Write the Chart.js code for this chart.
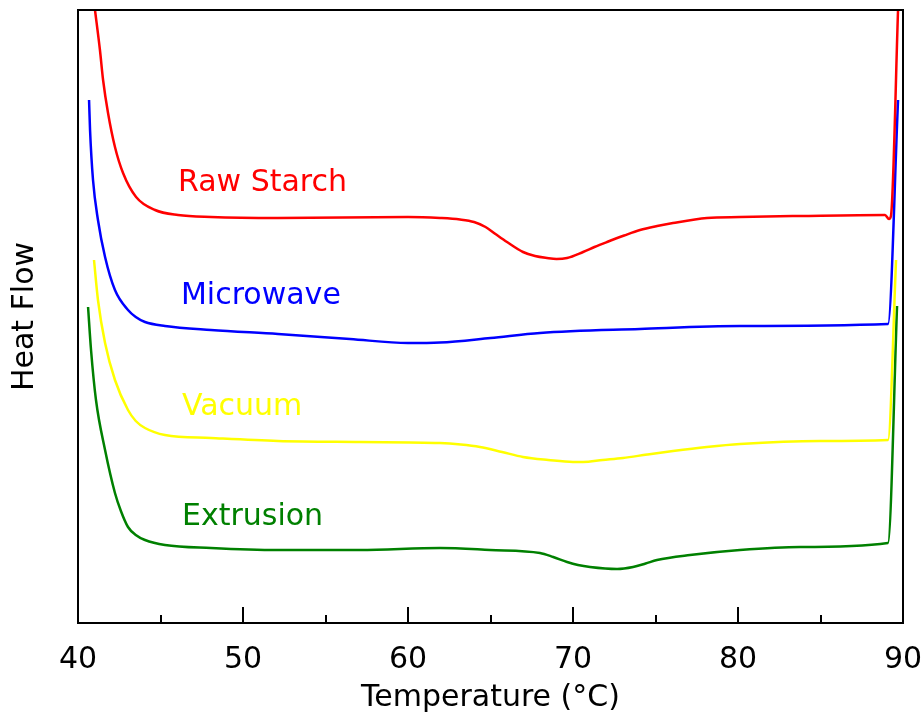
<!DOCTYPE html>
<html>
<head>
<meta charset="utf-8">
<script src="https://cdn.jsdelivr.net/npm/chart.js@4/dist/chart.umd.min.js"></script>
<style>
  html, body { margin: 0; padding: 0; background: #ffffff; }
  #wrap { width: 922px; height: 721px; }
</style>
</head>
<body>
<div id="wrap"><canvas id="c" width="922" height="721"></canvas></div>
<script>
// Temperature (°C) and heat flow (a.u.)
const rawT  = [41.03, 41.33, 41.52, 41.82, 42.24, 42.73, 43.52, 44.67, 46.06, 48.06, 52.12, 60.0, 61.94, 63.15, 64.0, 64.7, 65.3, 66.0, 66.97, 67.7, 68.42, 69.0, 69.64, 70.61, 71.3, 72.06, 73.1, 74.06, 75.1, 76.06, 78.12, 80.12, 83.76, 88.91, 89.15, 89.27, 89.70];
const rawY  = [61.3, 57.3, 54.3, 51.0, 47.6, 45.0, 42.6, 41.3, 40.8, 40.6, 40.5, 40.6, 40.5, 40.35, 40.1, 39.6, 38.9, 38.1, 37.1, 36.7, 36.5, 36.4, 36.5, 37.1, 37.6, 38.1, 38.75, 39.3, 39.7, 40.0, 40.5, 40.6, 40.7, 40.8, 40.4, 40.7, 61.3];

const micT  = [40.67, 40.73, 40.91, 41.21, 41.64, 42.24, 43.03, 43.5, 44.06, 45.27, 48.06, 52.12, 56.48, 60.0, 61.94, 65.0, 68.0, 74.06, 80.12, 89.09, 89.70];
const micY  = [52.3, 49.3, 44.3, 40.3, 36.6, 33.3, 31.3, 30.6, 30.1, 29.7, 29.3, 28.9, 28.4, 28.0, 28.05, 28.5, 29.0, 29.4, 29.7, 29.9, 52.3];

const vacT  = [40.97, 41.21, 41.64, 42.24, 43.03, 43.5, 44.06, 45.27, 48.06, 52.12, 57.09, 61.94, 63.2, 64.36, 65.7, 66.97, 68.5, 70.0, 70.61, 71.8, 73.03, 74.5, 76.06, 78.1, 80.12, 84.97, 89.09, 89.58];
const vacY  = [36.3, 32.3, 28.0, 24.3, 21.3, 20.2, 19.5, 18.8, 18.5, 18.2, 18.1, 18.0, 17.85, 17.6, 17.1, 16.6, 16.3, 16.1, 16.1, 16.3, 16.5, 16.85, 17.2, 17.6, 17.9, 18.2, 18.3, 36.3];

const extT  = [40.61, 40.79, 41.09, 41.64, 42.24, 42.6, 43.03, 43.5, 44.06, 45.27, 48.06, 52.12, 57.09, 61.94, 64.97, 68.0, 68.8, 69.64, 70.3, 71.03, 72.67, 73.64, 74.4, 75.09, 77.09, 80.12, 83.76, 89.09, 89.64];
const extY  = [31.6, 27.3, 22.3, 17.3, 13.0, 11.2, 9.6, 8.8, 8.3, 7.8, 7.5, 7.3, 7.3, 7.5, 7.3, 7.0, 6.6, 6.1, 5.8, 5.6, 5.4, 5.6, 5.95, 6.3, 6.8, 7.3, 7.6, 8.0, 31.7];

const seriesNames = ['Raw Starch', 'Microwave', 'Vacuum', 'Extrusion'];
const xTickValues = [40, 50, 60, 70, 80, 90];

// label anchors (data coordinates) and styles kept separate from data
const labelAnchors = [[46.06, 44.0], [46.24, 32.7], [46.3, 21.6], [46.3, 10.6]];
const colors = ['#ff0000', '#0000ff', '#ffff00', '#008000'];

const FONT = '"DejaVu Sans", sans-serif';

function pts(xs, ys) { return xs.map((x, i) => ({ x: x, y: ys[i] })); }

const seriesData = [pts(rawT, rawY), pts(micT, micY), pts(vacT, vacY), pts(extT, extY)];

const framePlugin = {
  id: 'frameTicks',
  afterDatasetsDraw(chart) {
    const ctx = chart.ctx;
    const a = chart.chartArea;
    const xs = chart.scales.x;
    ctx.save();
    ctx.strokeStyle = '#000';
    ctx.lineWidth = 2;
    ctx.strokeRect(a.left, a.top, a.right - a.left, a.bottom - a.top);
    // inward ticks (major every 10, minor every 5)
    for (let v = xs.min + 5; v < xs.max - 1e-9; v += 5) {
      const px = Math.round(xs.getPixelForValue(v));
      const len = (Math.round(v) % 10 === 0) ? 16 : 8;
      ctx.beginPath();
      ctx.moveTo(px, a.bottom);
      ctx.lineTo(px, a.bottom - len);
      ctx.stroke();
    }
    // series labels
    ctx.font = '30px ' + FONT;
    ctx.textAlign = 'left';
    ctx.textBaseline = 'middle';
    const ys = chart.scales.y;
    seriesNames.forEach((name, i) => {
      ctx.fillStyle = colors[i];
      ctx.fillText(name, xs.getPixelForValue(labelAnchors[i][0]), ys.getPixelForValue(labelAnchors[i][1]));
    });
    ctx.restore();
  }
};

new Chart(document.getElementById('c'), {
  type: 'line',
  data: {
    datasets: seriesData.map((d, i) => ({
      label: seriesNames[i],
      data: d,
      borderColor: colors[i],
      backgroundColor: colors[i],
      borderWidth: 2.5,
      pointRadius: 0,
      fill: false,
      cubicInterpolationMode: 'monotone'
    }))
  },
  options: {
    responsive: false,
    animation: false,
    devicePixelRatio: 1,
    layout: { padding: { top: 10, right: 19, left: 0, bottom: 0 } },
    plugins: { legend: { display: false }, tooltip: { enabled: false } },
    scales: {
      x: {
        type: 'linear',
        min: 40,
        max: 90,
        grid: { display: false, drawTicks: false },
        border: { display: false },
        ticks: {
          stepSize: 5,
          autoSkip: false,
          maxRotation: 0,
          padding: 19,
          color: '#000',
          font: { family: FONT, size: 30 },
          callback: (v) => xTickValues.includes(v) ? String(v) : ''
        },
        title: {
          display: true,
          text: 'Temperature (°C)',
          color: '#000',
          font: { family: FONT, size: 30 },
          padding: { top: 0, bottom: 5 }
        },
        afterFit(scale) { scale.height = 98; scale.paddingLeft = 0; scale.paddingRight = 0; }
      },
      y: {
        type: 'linear',
        min: 0,
        max: 61.3,
        grid: { display: false, drawTicks: false },
        border: { display: false },
        ticks: { display: false },
        title: {
          display: true,
          text: 'Heat Flow',
          color: '#000',
          font: { family: FONT, size: 30 },
          padding: { top: 7, bottom: 0 }
        },
        afterFit(scale) { scale.width = 78; scale.paddingTop = 0; scale.paddingBottom = 0; }
      }
    }
  },
  plugins: [framePlugin]
});
</script>
</body>
</html>
